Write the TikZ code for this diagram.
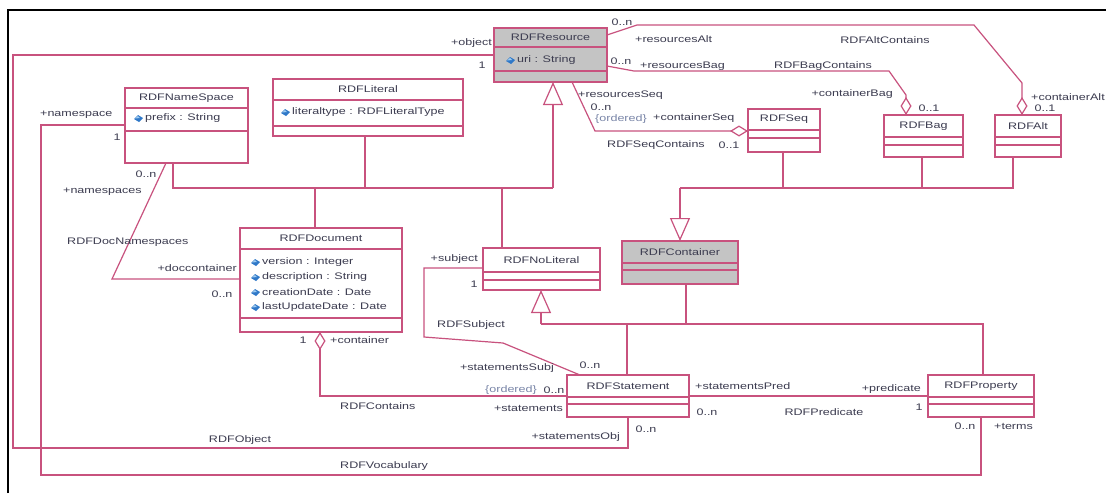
\documentclass[tikz,border=0pt]{standalone}
\usepackage{fontspec}
\newfontfamily\dgfont[FakeStretch=1.32]{Liberation Sans}
\usetikzlibrary{arrows.meta}

\definecolor{lc}{HTML}{C8527E}
\definecolor{txt}{HTML}{3C3C50}
\definecolor{boxgray}{HTML}{C4C4C4}
\definecolor{gemb}{HTML}{2F78C8}
\definecolor{geml}{HTML}{A0CCF0}
\definecolor{ordc}{HTML}{7A86A8}

\tikzset{
  lbl/.style={font=\dgfont\fontsize{9.5}{11}\selectfont, text=txt, inner sep=0pt},
  clsbox/.style={draw=lc, line width=1.2pt, anchor=north west, inner sep=0pt, outer sep=0pt},
  assoc/.style={draw=lc, line width=1.2pt, line join=miter},
  gen/.style={assoc, -{Triangle[open, length=23pt, width=20pt]}},
  aggstart/.style={assoc, {Diamond[open, length=18pt, width=11pt]}-},
  aggend/.style={assoc, -{Diamond[open, length=18pt, width=11pt]}},
}

% class box: name, x1, y1, x2, y2, first divider, second divider, fill, title
\newcommand\umlclass[9]{%
  \node[clsbox, fill=#8, minimum width={(#4-#2)*1pt}, minimum height={(#5-#3)*1pt}] (#1) at (#2,#3) {};
  \draw[assoc] (#2,#6) -- (#4,#6) (#2,#7) -- (#4,#7);
  \node[lbl] (#1-title) at ({(#2+#4)/2},{(#3+#6)/2}) {#9};
}
% attribute line with its icon: name, x, y, text
\newcommand\umlattr[4]{%
  \fill[gemb] ({#2-11},{#3+1}) -- ({#2-7},{#3-3}) -- ({#2-2},{#3}) -- ({#2-6},{#3+4}) -- cycle;
  \fill[geml] ({#2-10},{#3+0.5}) -- ({#2-7},{#3-2}) -- ({#2-5},{#3}) -- cycle;
  \node[lbl, anchor=west] (#1) at (#2,#3) {#4};
}

\begin{document}
\begin{tikzpicture}[x=1pt, y=-1pt]
\useasboundingbox (0,0) rectangle (1106,493);
\fill[white] (0,0) rectangle (1106,493);
\draw[black, line width=1.6pt] (8,493) -- (8,10) -- (1106,10);

% classes
\umlclass{res}{494}{28}{607}{82}{47}{71}{boxgray}{RDFResource}
\umlclass{ns}{125}{88}{248}{163}{108}{131}{white}{RDFNameSpace}
\umlclass{lit}{273}{79}{463}{136}{100}{126}{white}{RDFLiteral}
\umlclass{doc}{240}{228}{402}{332}{249}{318}{white}{RDFDocument}
\umlclass{nolit}{483}{248}{600}{290}{272}{280}{white}{RDFNoLiteral}
\umlclass{cont}{622}{241}{738}{284}{263}{270}{boxgray}{RDFContainer}
\umlclass{seq}{748}{109}{820}{152}{130}{138}{white}{RDFSeq}
\umlclass{bag}{884}{115}{963}{157}{137}{145}{white}{RDFBag}
\umlclass{alt}{995}{115}{1061}{157}{137}{145}{white}{RDFAlt}
\umlclass{stmt}{567}{375}{689}{417}{397}{404}{white}{RDFStatement}
\umlclass{prop}{928}{375}{1034}{417}{397}{404}{white}{RDFProperty}

% attributes
\umlattr{resuri}{517}{60}{uri : String}
\umlattr{nsprefix}{145}{118}{prefix : String}
\umlattr{littype}{292}{112}{literaltype : RDFLiteralType}
\umlattr{docver}{262}{262}{version : Integer}
\umlattr{docdesc}{262}{277}{description : String}
\umlattr{doccre}{262}{292}{creationDate : Date}
\umlattr{docupd}{262}{307}{lastUpdateDate : Date}

% generalizations to RDFResource
\draw[gen] (553,188) -- (res.south -| 553,0);
\draw[assoc] (ns.south -| 173,0) |- (553,188);
\draw[assoc] (lit.south -| 365,0) -- (365,188);
\draw[assoc] (doc.north -| 315,0) -- (315,188);
\draw[assoc] (nolit.north -| 502,0) -- (502,188);

% generalizations to RDFNoLiteral
\draw[gen] (541,324) -- (nolit.south -| 541,0);
\draw[assoc] (541,324) -| (prop.north -| 983,0);
\draw[assoc] (stmt.north -| 627,0) -- (627,324);
\draw[assoc] (cont.south -| 686,0) -- (686,324);

% generalizations to RDFContainer
\draw[gen] (680,188) -- (cont.north -| 680,0);
\draw[assoc] (alt.south -| 1013,0) |- (680,188);
\draw[assoc] (seq.south -| 783,0) -- (783,188);
\draw[assoc] (bag.south -| 922,0) -- (922,188);

% associations
\draw[assoc] (res.west |- 0,55) -| (13,448) -| (stmt.south -| 628,0);
\draw[assoc] (ns.west |- 0,125) -| (41,475) -| (prop.south -| 981,0);
\draw[assoc] (ns.south -| 166,0) -- (112,279) -- (doc.west |- 0,279);
\draw[aggstart] (doc.south -| 320,0) |- (stmt.west |- 0,396);
\draw[assoc] (nolit.west |- 0,268) -- (424,268) -- (424,337) -- (503,343) -- (stmt.north -| 580,0);
\draw[assoc] (stmt.east |- 0,396) -- (prop.west |- 0,396);
\draw[aggend] (res.south -| 572,0) -- (595,131) -- (seq.west |- 0,131);
\draw[aggend] (res.east |- 0,66) -- (634,71) -- (889,71) -- (906,95) -- (bag.north -| 906,0);
\draw[aggend] (res.east |- 0,35) -- (637,25) -- (974,25) -- (1022,83) -- (alt.north -| 1022,0);

% association ends and names
\node[lbl, anchor=east] (l1) at (492,43) {+object};
\node[lbl] (l2) at (482,65) {1};
\node[lbl] (l3) at (622,22) {0..n};
\node[lbl, anchor=west] (l4) at (635,39) {+resourcesAlt};
\node[lbl] (l5) at (621,61) {0..n};
\node[lbl, anchor=west] (l6) at (640,66) {+resourcesBag};
\node[lbl] (l7) at (885,40) {RDFAltContains};
\node[lbl] (l8) at (823,66) {RDFBagContains};
\node[lbl, anchor=east] (l9) at (893,94) {+containerBag};
\node[lbl] (l10) at (929,108) {0..1};
\node[lbl, anchor=west] (l11) at (1031,97) {+containerAlt};
\node[lbl] (l12) at (1045,108) {0..1};
\node[lbl, anchor=west] (l13) at (578,95) {+resourcesSeq};
\node[lbl] (l14) at (601,107) {0..n};
\node[lbl, anchor=west, text=ordc] (l15) at (595,119) {\{ordered\}};
\node[lbl, anchor=west] (l16) at (653,118) {+containerSeq};
\node[lbl, anchor=west] (l17) at (607,145) {RDFSeqContains};
\node[lbl] (l18) at (729,145) {0..1};
\node[lbl, anchor=west] (l19) at (40,115) {+namespace};
\node[lbl] (l20) at (117,137) {1};
\node[lbl] (l21) at (146,174) {0..n};
\node[lbl, anchor=west] (l22) at (63,192) {+namespaces};
\node[lbl, anchor=west] (l23) at (67,242) {RDFDocNamespaces};
\node[lbl, anchor=east] (l24) at (237,268) {+doccontainer};
\node[lbl] (l25) at (222,294) {0..n};
\node[lbl] (l26) at (303,340) {1};
\node[lbl, anchor=west] (l27) at (330,340) {+container};
\node[lbl, anchor=west] (l28) at (340,406) {RDFContains};
\node[lbl, anchor=west, text=ordc] (l29) at (485,390) {\{ordered\}};
\node[lbl] (l30) at (554,390) {0..n};
\node[lbl, anchor=east] (l31) at (563,408) {+statements};
\node[lbl, anchor=east] (l32) at (478,259) {+subject};
\node[lbl] (l33) at (474,284) {1};
\node[lbl, anchor=west] (l34) at (437,325) {RDFSubject};
\node[lbl, anchor=east] (l35) at (554,368) {+statementsSubj};
\node[lbl] (l36) at (590,365) {0..n};
\node[lbl, anchor=west] (l37) at (695,386) {+statementsPred};
\node[lbl] (l38) at (707,412) {0..n};
\node[lbl, anchor=east] (l39) at (921,389) {+predicate};
\node[lbl] (l40) at (919,407) {1};
\node[lbl] (l41) at (824,412) {RDFPredicate};
\node[lbl] (l42) at (965,426) {0..n};
\node[lbl, anchor=west] (l43) at (994,426) {+terms};
\node[lbl, anchor=east] (l44) at (620,437) {+statementsObj};
\node[lbl] (l45) at (646,429) {0..n};
\node[lbl] (l46) at (240,440) {RDFObject};
\node[lbl, anchor=west] (l47) at (340,466) {RDFVocabulary};
\end{tikzpicture}
\end{document}
